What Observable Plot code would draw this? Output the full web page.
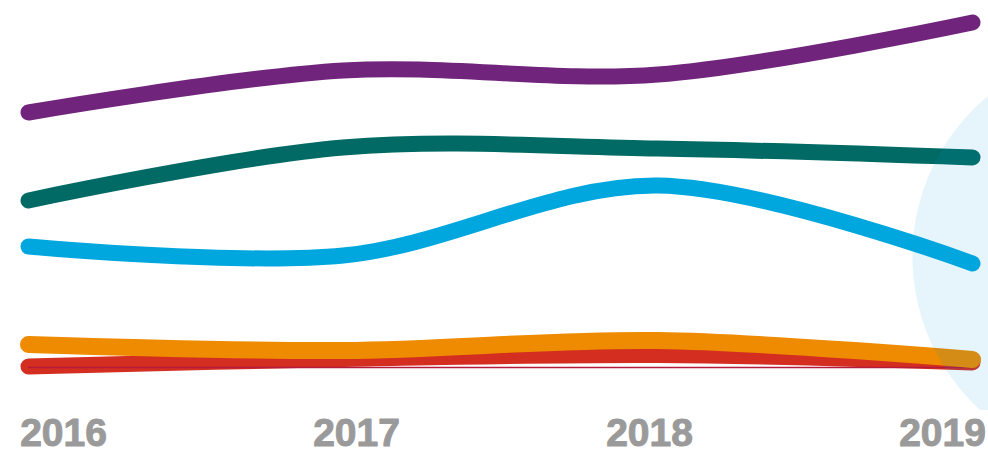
<!DOCTYPE html>
<html>
<head>
<meta charset="utf-8">
<script src="https://cdn.jsdelivr.net/npm/d3@7"></script>
<script src="https://cdn.jsdelivr.net/npm/@observablehq/plot@0.6"></script>
<style>
  html, body { margin: 0; padding: 0; background: #ffffff; overflow: hidden; }
  #chart { position: relative; width: 988px; height: 455px; overflow: hidden; }
  #chart svg { display: block; }
  #chart svg.axis { position: absolute; left: 0; top: 393px; }
</style>
</head>
<body>
<div id="chart"></div>
<script>
// ---- data (arbitrary units) ----
const years = [2016, 2017, 2018, 2019];
const yearLabels = ["2016", "2017", "2018", "2019"];
const purpleValues = [25.5, 29.7, 29.3, 34.5];
const tealValues   = [16.7, 22.0, 21.9, 21.0];
const blueValues   = [12.1, 11.2, 18.2, 10.4];
const redValues    = [0.1, 0.85, 1.25, 0.5];
const orangeValues = [2.3, 1.7, 2.7, 0.8];
const baselineValue = [0];
const highlight = [{year: 2019.47, value: 11.1}];

const toRows = (vals) => years.map((y, i) => ({year: y, value: vals[i]}));

const lineOpts = (color, w) => ({
  x: "year", y: "value", stroke: color, strokeWidth: w,
  curve: "catmull-rom", strokeLinecap: "round", strokeLinejoin: "round"
});

const main = Plot.plot({
  width: 988,
  height: 410,
  marginLeft: 28,
  marginRight: 16,
  marginTop: 7,
  marginBottom: 43,
  x: {domain: [2016, 2019], axis: null},
  y: {domain: [0, 36], axis: null},
  marks: [
    Plot.line(toRows(purpleValues), lineOpts("#70247b", 16)),
    Plot.line(toRows(tealValues), lineOpts("#016a64", 16)),
    Plot.line(toRows(blueValues), lineOpts("#00a7de", 16)),
    Plot.line(toRows(redValues), lineOpts("#d42e21", 16)),
    Plot.ruleY(baselineValue, {stroke: "#b5193b", strokeWidth: 1.5}),
    Plot.line(toRows(orangeValues), lineOpts("#ee8b00", 17)),
    Plot.dot(highlight, {x: "year", y: "value", r: 208, fill: "#00a0dc", fillOpacity: 0.1, stroke: "none"})
  ]
});

const axis = Plot.plot({
  width: 988,
  height: 80,
  marginTop: 21,
  marginBottom: 20,
  marginLeft: 0,
  marginRight: 0,
  style: {background: "transparent", overflow: "visible"},
  x: {type: "linear", domain: [2016, 2019], range: [63, 942], axis: null},
  marks: [
    Plot.text(years, {
      x: d => d,
      text: (d, i) => yearLabels[i],
      frameAnchor: "middle",
      lineAnchor: "middle",
      fontSize: 39,
      fontWeight: "bold",
      fontFamily: "Liberation Sans, Arial, sans-serif",
      fill: "#9a9a9a",
      stroke: "#9a9a9a",
      strokeWidth: 1
    })
  ]
});
axis.classList.add("axis");

const host = document.getElementById("chart");
host.appendChild(main);
host.appendChild(axis);
</script>
</body>
</html>
